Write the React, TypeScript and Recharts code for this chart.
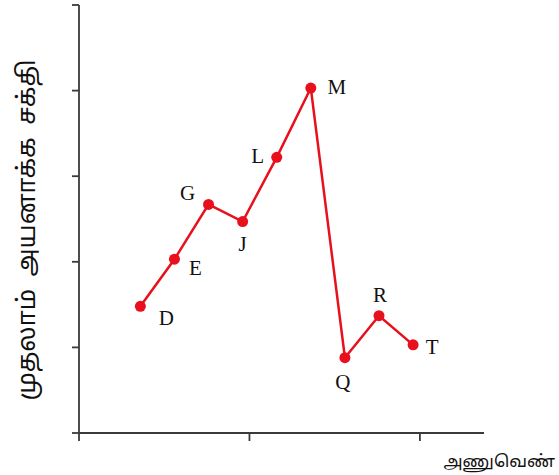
import React from 'react';
import { LineChart, Line, XAxis, YAxis, Label, LabelList } from 'recharts';

// Elements (category names) along the atomic-number axis
const elements = ['D', 'E', 'G', 'J', 'L', 'M', 'Q', 'R', 'T'];
// Atomic number positions (axis units)
const atomicPos = [1.8, 2.8, 3.8, 4.8, 5.8, 6.8, 7.8, 8.8, 9.8];
// First ionisation energy values (axis units)
const ionEnergy = [1.48, 2.03, 2.67, 2.47, 3.22, 4.03, 0.88, 1.37, 1.03];
const xTicks = [0, 5, 10];
const yTicks = [0, 1, 2, 3, 4, 5];

const yTitle = 'முதலாம் அயனாக்க சக்தி';
const xTitle = 'அணுவெண்';

const data = elements.map((name, i) => ({ name, x: atomicPos[i], y: ionEnergy[i] }));

// label placement (styling): offset of each point's letter from the point
const labelOffsets: Record<string, [number, number]> = {
  D: [26, 12], E: [21, 9], G: [-21, -11], J: [0, 22], L: [-19, -1],
  M: [26, -1], Q: [-2, 24], R: [1, -21], T: [19, 2],
};

const RED = '#e8101c';
const AXIS = '#3a3a3a';
const TAMIL = "Latha, 'Noto Sans Tamil', 'Noto Sans Tamil UI', 'Lohit Tamil', 'Noto Sans', sans-serif";

const PointLabel = (props: any) => {
  const { x, y, value } = props;
  const off = labelOffsets[value] || [0, 0];
  return (
    <text x={x + off[0]} y={y + off[1]} textAnchor="middle" dominantBaseline="central"
      fontFamily="'Liberation Serif', 'Times New Roman', serif" fontSize={21} fill="#111">
      {value}
    </text>
  );
};

const NoTick = () => <g />;

export default function App() {
  return (
    <div style={{ position: 'absolute', left: 0, top: 0, width: 559, height: 475, background: '#fff' }}>
      <LineChart width={559} height={475} data={data} margin={{ top: 5, right: 75, bottom: 0, left: 0 }}>
        <XAxis dataKey="x" type="number" domain={[0, 11.88]} ticks={xTicks} tick={NoTick}
          height={42} stroke={AXIS} strokeWidth={1.8} tickSize={8} allowDataOverflow>
          <Label content={(p: any) => {
            const vb = p.viewBox || {};
            return (
              <text x={vb.x + vb.width + 71} y={vb.y + 29} textAnchor="end" dominantBaseline="central"
                fontFamily={TAMIL} fontSize={17} fill="#111">{xTitle}</text>
            );
          }} />
        </XAxis>
        <YAxis dataKey="y" type="number" domain={[0, 5]} ticks={yTicks} tick={NoTick}
          width={79} stroke={AXIS} strokeWidth={1.8} tickSize={7} allowDataOverflow>
          <Label content={(p: any) => {
            const vb = p.viewBox || {};
            const cx = 28;
            const cy = vb.y + vb.height / 2 + 11;
            return (
              <text x={cx} y={cy} transform={`rotate(-90 ${cx} ${cy})`} textAnchor="middle"
                dominantBaseline="central" fontFamily={TAMIL} fontSize={25} wordSpacing={6} fill="#111">{yTitle}</text>
            );
          }} />
        </YAxis>
        <Line dataKey="y" type="linear" stroke={RED} strokeWidth={2.5} isAnimationActive={false}
          dot={{ r: 5.5, fill: RED, stroke: RED, strokeWidth: 0 }} activeDot={false}>
          <LabelList dataKey="name" content={PointLabel} />
        </Line>
      </LineChart>
    </div>
  );
}
